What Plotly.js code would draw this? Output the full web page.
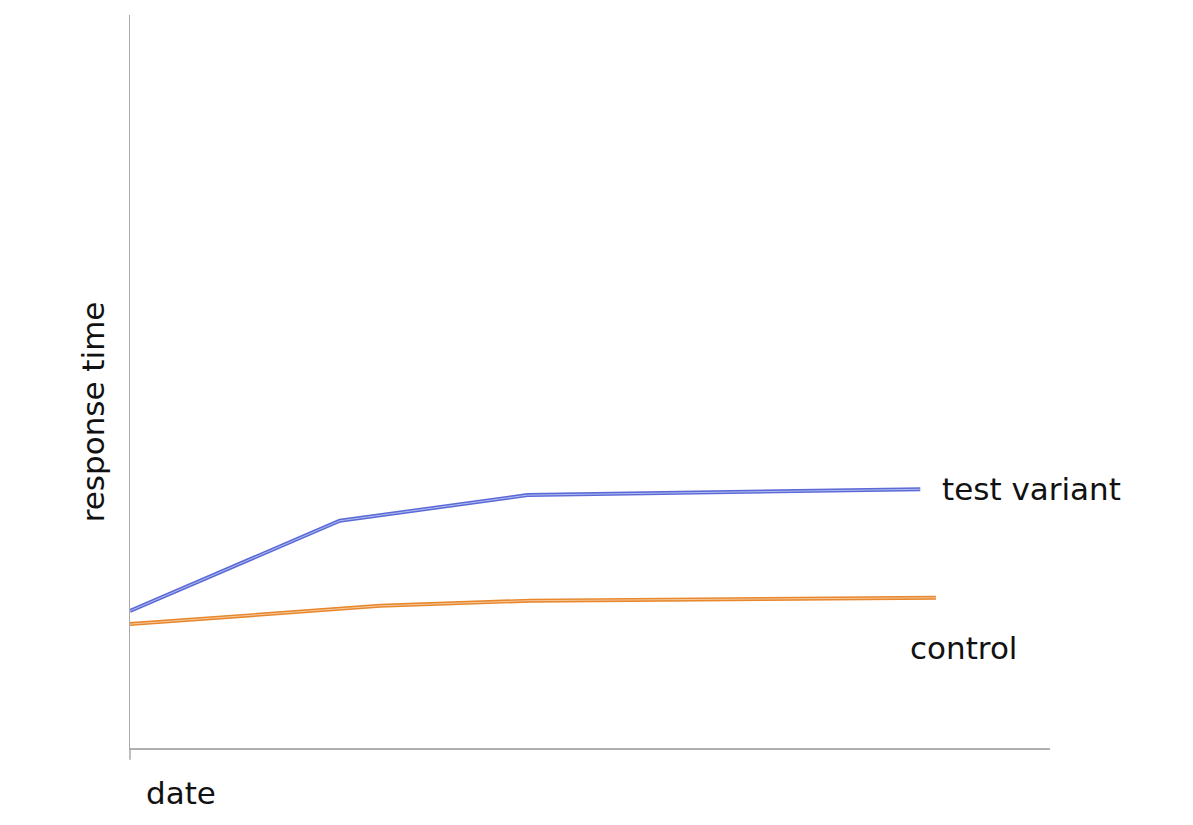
<!DOCTYPE html>
<html>
<head>
<meta charset="utf-8">
<script src="https://cdn.plot.ly/plotly-3.0.1.min.js"></script>
<style>html,body{margin:0;padding:0;background:#fff;}#chart{width:1193px;height:825px;}</style>
</head>
<body>
<div id="chart"></div>
<script>
// Data (arbitrary units)
const testDates = [0, 22.8, 43.2, 85.9];
const testResponse = [18.7, 31.0, 34.5, 35.3];
const controlDates = [0, 27.2, 43.5, 87.6];
const controlResponse = [16.9, 19.4, 20.1, 20.5];
const seriesNames = ["test variant", "control"];
const axisTitles = {x: "date", y: "response time"};

const blue = "#5a6bd8";
const orange = "#e8872c";
const font = "'Comic Sans MS', 'DejaVu Sans', sans-serif";
const textFont = {family: font, size: 31, color: "#111"};

function sketch(x, y, color, name) {
  return [
    {x: x, y: y, type: "scatter", mode: "lines", name: name, showlegend: false,
     line: {color: color, width: 4}, hoverinfo: "skip"},
    {x: x, y: y, type: "scatter", mode: "lines", name: name + " (stroke)", showlegend: false,
     line: {color: "rgba(255,255,255,0.55)", width: 1}, hoverinfo: "skip"}
  ];
}

const data = [].concat(
  sketch(testDates, testResponse, blue, seriesNames[0]),
  sketch(controlDates, controlResponse, orange, seriesNames[1])
);

const layout = {
  width: 1193, height: 825,
  margin: {l: 130, r: 143, t: 15, b: 77},
  paper_bgcolor: "#fff", plot_bgcolor: "#fff",
  showlegend: false,
  xaxis: {range: [0, 100], showgrid: false, zeroline: false, showticklabels: false, ticks: "",
          showline: true, linecolor: "#b0b0b0", linewidth: 1.5},
  yaxis: {range: [0, 100], showgrid: false, zeroline: false, showticklabels: false, ticks: "",
          showline: true, linecolor: "#a8a8a8", linewidth: 1.5},
  annotations: [
    {x: testDates[testDates.length-1], y: testResponse[testResponse.length-1], xref: "x", yref: "y",
     text: seriesNames[0], showarrow: false, xanchor: "left", xshift: 20, yshift: 0,
     font: textFont},
    {x: controlDates[controlDates.length-1], y: controlResponse[controlResponse.length-1], xref: "x", yref: "y",
     text: seriesNames[1], showarrow: false, xanchor: "left", xshift: -28, yshift: -50,
     font: textFont},
    {x: 0, y: 0, xref: "paper", yref: "paper", text: axisTitles.x, showarrow: false,
     xanchor: "left", yanchor: "middle", xshift: 14, yshift: -45, font: textFont},
    {x: 0, y: 0.458, xref: "paper", yref: "paper", text: axisTitles.y, showarrow: false,
     textangle: -90, xanchor: "center", yanchor: "middle", xshift: -37, font: textFont}
  ],
  shapes: [
    {type: "line", xref: "paper", yref: "paper", x0: 0, x1: 0, y0: 0, y1: -0.016,
     line: {color: "#a8a8a8", width: 1.5}}
  ]
};

Plotly.newPlot("chart", data, layout, {displayModeBar: false, staticPlot: true});
</script>
</body>
</html>
